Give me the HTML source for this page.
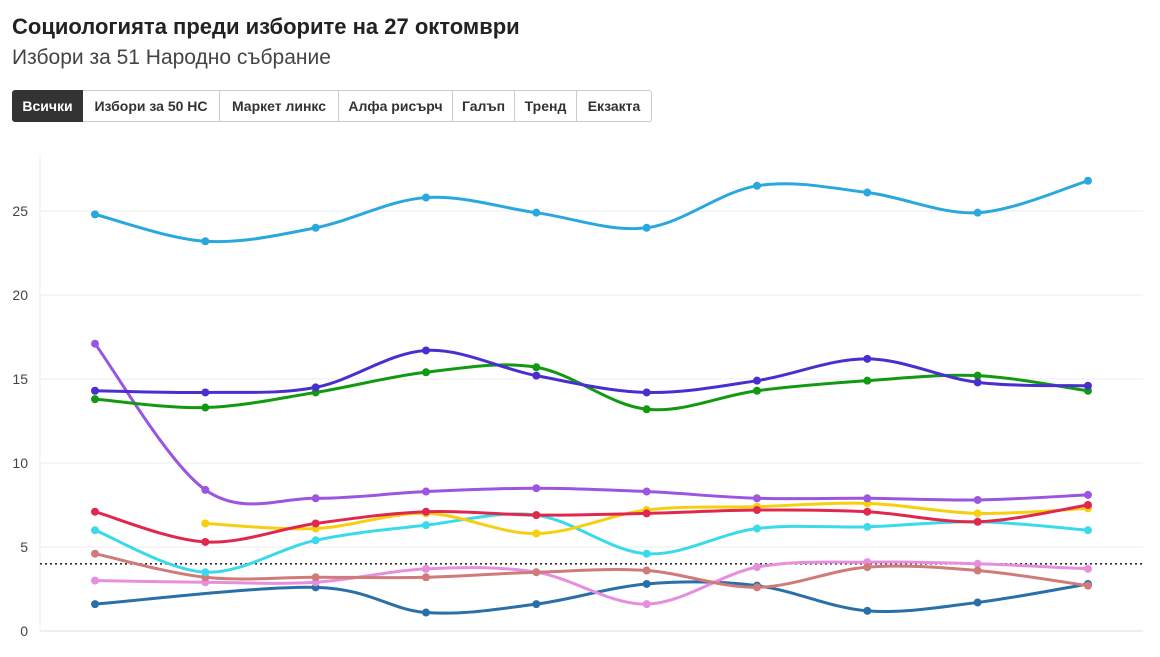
<!DOCTYPE html>
<html><head><meta charset="utf-8"><style>
body{margin:0;width:1160px;height:657px;background:#fff;font-family:"Liberation Sans","DejaVu Sans",sans-serif;overflow:hidden;position:relative}
#title{position:absolute;left:12px;top:14px;font-size:22px;font-weight:bold;color:#222}
#sub{position:absolute;left:12px;top:46px;font-size:21px;color:#444}
#btns{position:absolute;left:12px;top:90px;display:flex;height:32px}
.b{box-sizing:border-box;height:32px;border:1px solid #ccc;border-left:none;font-size:14px;font-weight:bold;color:#333;display:flex;align-items:center;justify-content:center;background:#fff}
.b.first{border-left:1px solid #ccc;background:#333;color:#fff;border-color:#333;border-radius:3px 0 0 3px}
svg{position:absolute;left:0;top:0}
</style></head><body>
<div id="title">Социологията преди изборите на 27 октомври</div>
<div id="sub">Избори за 51 Народно събрание</div>
<div id="btns">
<div class="b first" style="width:71px">Всички</div>
<div class="b" style="width:137px">Избори за 50 НС</div>
<div class="b" style="width:119px">Маркет линкс</div>
<div class="b" style="width:114px">Алфа рисърч</div>
<div class="b" style="width:62px">Галъп</div>
<div class="b" style="width:62px">Тренд</div>
<div class="b" style="width:75px;border-radius:0 3px 3px 0">Екзакта</div>
</div>
<svg id="chart" width="1160" height="657"></svg>
<script>
const yTicks=[0,5,10,15,20,25];
const threshold=4;
const colors=["#29a8e0","#4a2fd0","#119a11","#9b55e0","#e0284f","#f5cf10","#3adaea","#d07a7a","#e68fe0","#2a6fa8"];
const s1=[24.8,23.2,24.0,25.8,24.9,24.0,26.5,26.1,24.9,26.8];
const s2=[14.3,14.2,14.5,16.7,15.2,14.2,14.9,16.2,14.8,14.6];
const s3=[13.8,13.3,14.2,15.4,15.7,13.2,14.3,14.9,15.2,14.3];
const s4=[17.1,8.4,7.9,8.3,8.5,8.3,7.9,7.9,7.8,8.1];
const s5=[7.1,5.3,6.4,7.1,6.9,7.0,7.2,7.1,6.5,7.5];
const s6=[null,6.4,6.1,7.0,5.8,7.2,7.4,7.6,7.0,7.3];
const s7=[6.0,3.5,5.4,6.3,6.9,4.6,6.1,6.2,6.5,6.0];
const s8=[4.6,3.2,3.2,3.2,3.5,3.6,2.6,3.8,3.6,2.7];
const s9=[3.0,2.9,2.9,3.7,3.5,1.6,3.8,4.1,4.0,3.7];
const s10=[1.6,null,2.6,1.1,1.6,2.8,2.7,1.2,1.7,2.8];
const series=[s10,s9,s8,s7,s6,s5,s4,s3,s2,s1];
const sColors=[colors[9],colors[8],colors[7],colors[6],colors[5],colors[4],colors[3],colors[2],colors[1],colors[0]];
const NS="http://www.w3.org/2000/svg",svg=document.getElementById('chart');
const x=i=>95+i*110.33, y=v=>631-v*16.8;
function mk(t,a){const e=document.createElementNS(NS,t);for(const k in a)e.setAttribute(k,a[k]);svg.appendChild(e);return e;}
yTicks.forEach(t=>{
 const g=mk('line',{x1:40,x2:1143,y1:y(t),y2:y(t),stroke:t===0?'#ddd':'#eee','stroke-width':1});
 
 
 const l=mk('text',{x:28,y:y(t)+5,'text-anchor':'end','font-size':14,fill:'#444','font-family':'Liberation Sans, sans-serif'});
 l.textContent=t;
 
 
});
const vl=mk('line',{x1:40,x2:40,y1:155,y2:631,stroke:'#eee'});


const th=mk('line',{x1:40,x2:1143,y1:y(threshold),y2:y(threshold),stroke:'#333','stroke-width':1.6,'stroke-dasharray':'2,3'});


series.forEach((s,si)=>{
 const p=[];s.forEach((v,i)=>{if(v!==null)p.push([x(i),y(v)]);});
 let d='M'+p[0][0]+','+p[0][1];
 for(let i=0;i<p.length-1;i++){
  const p0=p[i-1]||p[i],p1=p[i],p2=p[i+1],p3=p[i+2]||p2;
  const c1=[p1[0]+(p2[0]-p0[0])/6,p1[1]+(p2[1]-p0[1])/6],c2=[p2[0]-(p3[0]-p1[0])/6,p2[1]-(p3[1]-p1[1])/6];
  d+=' C'+c1+' '+c2+' '+p2;
 }
 const path=mk('path',{d:d,fill:'none',stroke:sColors[si],'stroke-width':3});
 
 
 p.forEach(q=>{
  const c=mk('circle',{cx:q[0],cy:q[1],r:4,fill:sColors[si]});
  
  
 });
});
</script>
</body></html>
